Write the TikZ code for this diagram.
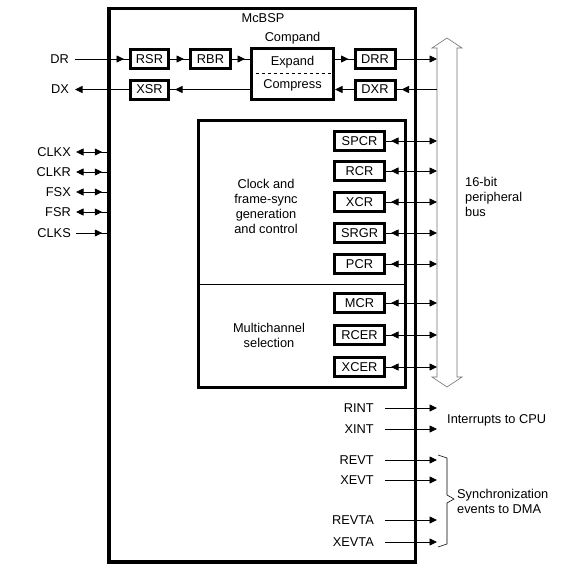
\documentclass[tikz,border=0pt]{standalone}
\usepackage{fontspec}
\setmainfont{Liberation Sans}
\usepackage{tikz}
\usetikzlibrary{arrows.meta, positioning, calc, decorations.markings}
\newcommand{\sigfont}{\fontsize{12.8}{15}\selectfont}
\tikzset{
  mainbox/.style={rectangle, draw=black, line width=3.5pt, inner sep=0pt},
  regbox/.style={rectangle, draw=black, line width=3pt, minimum width=40pt, minimum height=19pt, inner sep=0pt, font=\sigfont},
  siglabel/.style={inner sep=1pt, font=\sigfont},
  sigarrow/.style={-{Triangle[length=7.5pt,width=7pt]}, line width=0.8pt},
  intoarrow/.style={line width=0.8pt, postaction={decorate},
    decoration={markings, mark=at position -5pt with {\arrow{Triangle[length=7.5pt,width=7pt]}}}},
  bothway/.style={{Triangle[length=7.5pt,width=7pt]}-, intoarrow},
  busline/.style={draw=black!55, line width=0.6pt},
  braceline/.style={draw=black, line width=0.6pt}
}

\begin{document}
\begin{tikzpicture}[x=1pt, y=-1pt]
  \useasboundingbox (0,0) rectangle (568,586);

  % McBSP outline
  \node[mainbox, minimum width=306.5pt, minimum height=553.5pt] (mcbsp) at (262.25,285.25) {};
  \node[siglabel] (title) at (263,18) {McBSP};

  % Peripheral bus
  \draw[busline] (437,48) -- (432,48) -- (447,38) -- (462,48) -- (457,48) -- (457,377)
    -- (462,377) -- (447,387) -- (432,377) -- (437,377) -- cycle;
  \coordinate (busL) at (437,48);
  \node[siglabel, anchor=north west, align=left] (buslabel) at (464,176) {16-bit\\peripheral\\bus};

  % Data path
  \node[regbox, minimum width=38pt] (RSR) at (149.5,59) {RSR};
  \node[regbox] (RBR) at (210.5,59) {RBR};
  \node[regbox] (DRR) at (375,59) {DRR};
  \node[regbox, minimum width=38pt] (XSR) at (149.5,89.5) {XSR};
  \node[regbox] (DXR) at (375,89.5) {DXR};
  \node[regbox, minimum width=82pt, minimum height=50pt] (compand) at (292.5,74) {};
  \node[siglabel] (comptitle) at (292.5,38) {Compand};
  \node[siglabel] (expand) at (292.5,62) {Expand};
  \node[siglabel] (compress) at (292.5,85) {Compress};
  \draw[dashed, line width=0.8pt] (compand.west |- 0,73) -- (compand.east |- 0,73);

  \node[siglabel, anchor=east] (DR) at (70,59) {DR};
  \node[siglabel, anchor=east] (DX) at (70,89.5) {DX};
  \draw[intoarrow] ([xshift=5pt]DR.east) -- (RSR.west);
  \draw[intoarrow] (RSR) -- (RBR);
  \draw[intoarrow] (RBR.east) -- (RBR.east -| compand.west);
  \draw[intoarrow] (DRR.west -| compand.east) -- (DRR.west);
  \draw[sigarrow] (DRR.east) -- (DRR.east -| busL);
  \draw[intoarrow] (DXR.east -| busL) -- (DXR.east);
  \draw[sigarrow] (DXR.west) -- (DXR.west -| compand.east);
  \draw[intoarrow] (XSR.east -| compand.west) -- (XSR.east);
  \draw[sigarrow] (XSR.west) -- ([xshift=5pt]DX.east);

  % Control block
  \node[mainbox, line width=3pt, minimum width=207pt, minimum height=267pt] (ctrl) at (301.5,253.5) {};
  \draw[line width=0.8pt] (ctrl.west |- 0,284) -- (ctrl.east |- 0,284);
  \node[siglabel, align=center] (clocktext) at (266,206) {Clock and\\frame-sync\\generation\\and control};
  \node[siglabel, align=center] (multitext) at (269,335) {Multichannel\\selection};
  \foreach \reg/\y in {SPCR/141, RCR/171, XCR/202, SRGR/233, PCR/264, MCR/303, RCER/335, XCER/367} {
    \node[regbox, minimum width=50pt] (\reg) at (359.5,\y) {\reg};
    \draw[bothway] (\reg.east -| busL) -- (\reg.east);
  }

  % Clock and frame-sync pins
  \foreach \pin/\y/\tip in {CLKX/152/bothway, CLKR/172/bothway, FSX/192/bothway, FSR/212/bothway, CLKS/233/intoarrow} {
    \node[siglabel, anchor=east] (\pin) at (72,\y) {\pin};
    \draw[\tip] ([xshift=4pt]\pin.east) -- (\pin.east -| mcbsp.west);
  }

  % Interrupts and DMA events
  \foreach \evt/\y in {RINT/408, XINT/429, REVT/460, XEVT/480, REVTA/520, XEVTA/542} {
    \node[siglabel, anchor=east] (\evt) at (375,\y) {\evt};
    \draw[sigarrow] ([xshift=10pt]\evt.east) -- (\evt.east -| busL);
  }
  \node[siglabel, anchor=west] (irqtext) at (446,420) {Interrupts to CPU};
  \draw[braceline] (438,455) -- (447,458) -- (447,495) -- (454,499) -- (447,503) -- (447,544) -- (438,547);
  \node[siglabel, anchor=west, align=left] (dmatext) at (456,501) {Synchronization\\events to DMA};
\end{tikzpicture}
\end{document}
